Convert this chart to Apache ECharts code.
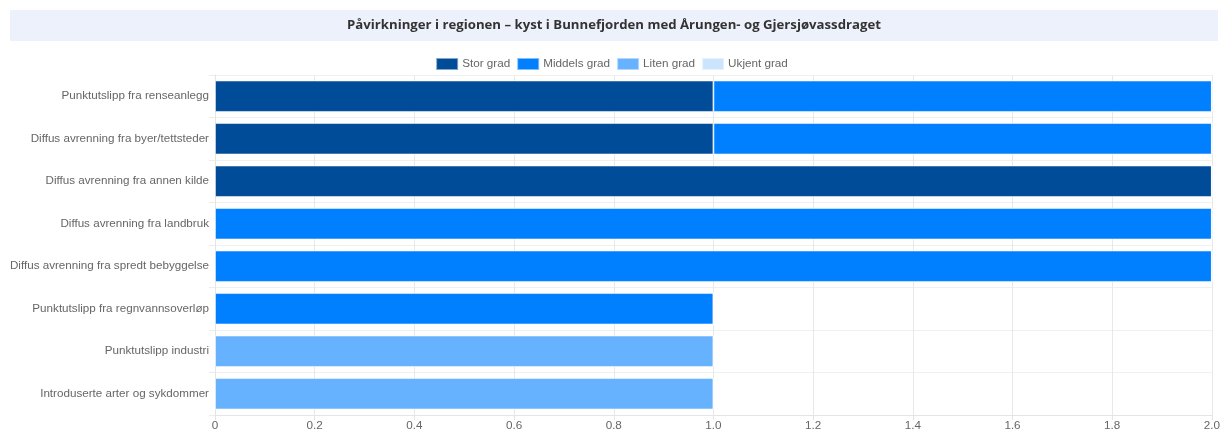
<!DOCTYPE html>
<html>
<head>
<meta charset="utf-8">
<script src="https://cdn.jsdelivr.net/npm/echarts@6/dist/echarts.min.js"></script>
<style>
  html, body { margin: 0; padding: 0; background: #fff; }
  #main { width: 1223px; height: 434px; }
</style>
</head>
<body>
<div id="main"></div>
<script>
var categories = [
  'Punktutslipp fra renseanlegg',
  'Diffus avrenning fra byer/tettsteder',
  'Diffus avrenning fra annen kilde',
  'Diffus avrenning fra landbruk',
  'Diffus avrenning fra spredt bebyggelse',
  'Punktutslipp fra regnvannsoverløp',
  'Punktutslipp industri',
  'Introduserte arter og sykdommer'
];
var storGrad    = [1, 1, 2, 0, 0, 0, 0, 0];
var middelsGrad = [1, 1, 0, 2, 2, 1, 0, 0];
var litenGrad   = [0, 0, 0, 0, 0, 0, 1, 1];
var ukjentGrad  = [0, 0, 0, 0, 0, 0, 0, 0];
var xTicks = ['0', '0.2', '0.4', '0.6', '0.8', '1.0', '1.2', '1.4', '1.6', '1.8', '2.0'];

var chart = echarts.init(document.getElementById('main'));

function barSeries(name, data, color) {
  return {
    name: name,
    type: 'bar',
    stack: 'grad',
    data: data,
    barCategoryGap: '26%',
    itemStyle: { color: color, borderColor: 'rgba(255,255,255,0.5)', borderWidth: 1 },
    emphasis: { disabled: true }
  };
}

var option = {
  animation: false,
  textStyle: { fontFamily: 'Liberation Sans, Arial, sans-serif' },
  graphic: [{
    type: 'rect',
    shape: { x: 10, y: 10, width: 1208, height: 31 },
    style: { fill: '#edf1fb' },
    silent: true
  }, {
    type: 'text',
    x: 614, y: 25.5,
    style: {
      text: 'Påvirkninger i regionen – kyst i Bunnefjorden med Årungen- og Gjersjøvassdraget',
      font: 'bold 13.2px "Open Sans", sans-serif',
      fill: '#333',
      align: 'center',
      verticalAlign: 'middle'
    },
    silent: true
  }],
  legend: {
    top: 52,
    left: 'center',
    itemWidth: 22,
    itemHeight: 12,
    itemGap: 6,
    icon: 'rect',
    textStyle: { color: '#666', fontSize: 11.7, padding: [0, 0, 0, -1] },
    data: ['Stor grad', 'Middels grad', 'Liten grad', 'Ukjent grad']
  },
  grid: { left: 215, right: 9, top: 75, bottom: 19, containLabel: false },
  xAxis: {
    type: 'value',
    min: 0,
    max: 2,
    interval: 0.2,
    axisLine: { show: true, lineStyle: { color: '#e5e5e5' } },
    axisTick: { show: true, length: 5, lineStyle: { color: '#e5e5e5' } },
    axisLabel: {
      color: '#666', fontSize: 11.7, margin: 5,
      formatter: function (v) { return xTicks[Math.round(v / 0.2)]; }
    },
    splitLine: { show: true, lineStyle: { color: '#e8e8e8' } }
  },
  yAxis: {
    type: 'category',
    inverse: true,
    data: categories,
    axisLine: { show: true, lineStyle: { color: '#e5e5e5' } },
    axisTick: { show: true, length: 6, lineStyle: { color: '#ececec' } },
    axisLabel: { color: '#666', fontSize: 11.65, margin: 6 },
    splitLine: { show: true, lineStyle: { color: '#f0f0f0' } }
  },
  series: [
    barSeries('Stor grad', storGrad, '#004c99'),
    barSeries('Middels grad', middelsGrad, '#007fff'),
    barSeries('Liten grad', litenGrad, '#66b2ff'),
    barSeries('Ukjent grad', ukjentGrad, '#cce5ff')
  ]
};

chart.setOption(option);
</script>
</body>
</html>
